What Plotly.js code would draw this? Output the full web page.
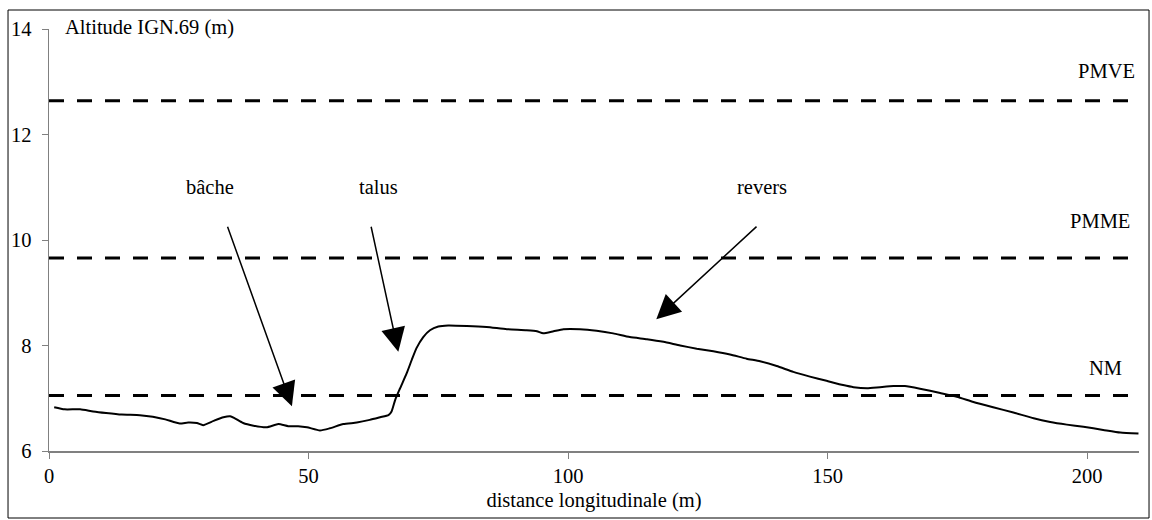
<!DOCTYPE html>
<html><head><meta charset="utf-8">
<script src="https://cdn.plot.ly/plotly-3.0.1.min.js"></script>
<style>html,body{margin:0;padding:0;background:#fff}#chart{width:1152px;height:520px}</style>
</head><body><div id="chart"></div>
<script>
// Profile data (distance in m, altitude IGN.69 in m)
const distance = [1, 3, 6, 8.5, 11, 14, 17.5, 20, 22.4, 25.2, 26.8, 28.5, 29.7, 31.7, 33.6, 34.9, 35.8, 37.4, 39.4, 41.9,
  44.2, 46.1, 48, 49.7, 52.2, 54.1, 56.7, 59.3, 61.8, 63.8, 65.4, 66, 66.7, 67.6, 68.9, 69.9, 70.8, 72.1, 73.4, 75,
  76.9, 80.5, 84.3, 88.2, 92, 94, 95.2, 97.2, 99.1, 102.3, 105.5, 108.7, 111.9, 115.2, 118.4, 121.6, 124.8, 128, 131.2, 134.4,
  137, 140.2, 143.4, 146.6, 149.8, 153, 155, 157.6, 160.1, 162.7, 164.9, 167.8, 171.7, 174.9, 178.1, 181.9, 185.8, 189.7, 192.9, 196.1,
  199.3, 203.1, 206.4, 209.9];
const altitude = [6.83, 6.79, 6.79, 6.75, 6.72, 6.69, 6.68, 6.65, 6.60, 6.52, 6.54, 6.53, 6.49, 6.57, 6.64, 6.66, 6.62, 6.53, 6.48, 6.45,
  6.51, 6.47, 6.47, 6.45, 6.39, 6.43, 6.51, 6.54, 6.59, 6.64, 6.68, 6.75, 6.97, 7.18, 7.47, 7.73, 7.95, 8.16, 8.29, 8.36,
  8.38, 8.37, 8.35, 8.31, 8.29, 8.27, 8.23, 8.27, 8.31, 8.31, 8.28, 8.23, 8.16, 8.12, 8.07, 8.00, 7.94, 7.89, 7.83, 7.75,
  7.70, 7.61, 7.50, 7.41, 7.33, 7.25, 7.21, 7.19, 7.21, 7.23, 7.23, 7.18, 7.10, 7.03, 6.93, 6.83, 6.73, 6.62, 6.55, 6.50,
  6.46, 6.40, 6.35, 6.33];

// Reference water levels
const levelNames = ['PMVE', 'PMME', 'NM'];
const levelValues = [12.64, 9.66, 7.05];
const levelSpan = [0, 210];

// Axis ticks
const xTicks = [0, 50, 100, 150, 200];
const yTicks = [6, 8, 10, 12, 14];

// Annotated features
const featureNames = ['bâche', 'talus', 'revers'];

const FONT = 'Liberation Serif';
const FS = 20.5;

const traces = [];
levelValues.forEach((v, i) => {
  traces.push({
    x: levelSpan, y: [v, v], mode: 'lines', name: levelNames[i], hoverinfo: 'skip',
    line: {color: '#000', width: 3, dash: '15px,13px'}
  });
});
traces.push({
  x: distance, y: altitude, mode: 'lines', name: 'profil', hoverinfo: 'skip',
  line: {color: '#000', width: 2, shape: 'spline', smoothing: 0.5}
});

const levelLabelPos = [
  {x: 203.8, yshift: 17},
  {x: 202.5, yshift: 24},
  {x: 203.5, yshift: 15}
];
const annotations = levelNames.map((n, i) => ({
  text: n, x: levelLabelPos[i].x, y: levelValues[i], xref: 'x', yref: 'y',
  xanchor: 'center', yanchor: 'bottom', yshift: levelLabelPos[i].yshift, showarrow: false,
  font: {family: FONT, size: FS, color: '#000'}
}));

// Feature labels and arrows (text positions, tails and tips)
const featureGeom = [
  {tx: 31.0, ty: 11.0, ax: 34.3, ay: 10.28, x: 46.8, y: 6.85},
  {tx: 63.4, ty: 11.0, ax: 62.0, ay: 10.28, x: 67.3, y: 7.88},
  {tx: 137.4, ty: 11.0, ax: 136.6, ay: 10.28, x: 117.0, y: 8.50}
];
featureNames.forEach((n, i) => {
  const g = featureGeom[i];
  annotations.push({
    text: n, x: g.tx, y: g.ty, xref: 'x', yref: 'y', showarrow: false,
    xanchor: 'center', yanchor: 'middle', font: {family: FONT, size: FS, color: '#000'}
  });
  annotations.push({
    text: '', x: g.x, y: g.y, xref: 'x', yref: 'y', ax: g.ax, ay: g.ay, axref: 'x', ayref: 'y',
    showarrow: true, arrowhead: 2, arrowsize: 3.2, arrowwidth: 1.5, arrowcolor: '#000', standoff: 0
  });
});

// Y axis title at top-left
annotations.push({
  text: 'Altitude IGN.69 (m)', xref: 'paper', yref: 'paper', x: 0.0128, y: 1.0024,
  xanchor: 'left', yanchor: 'middle', showarrow: false,
  font: {family: FONT, size: FS, color: '#000'}
});

const layout = {
  width: 1152, height: 520,
  margin: {l: 49, r: 13, t: 29, b: 69, pad: 0},
  paper_bgcolor: '#fff', plot_bgcolor: '#fff',
  showlegend: false,
  font: {family: FONT, size: FS, color: '#000'},
  xaxis: {
    range: [0, 210], tickvals: xTicks, ticktext: xTicks.map(String),
    showgrid: false, zeroline: false, showline: true, linecolor: '#808080', linewidth: 1.5,
    ticks: 'outside', ticklen: 6, tickcolor: '#808080', tickwidth: 1,
    ticklabelstandoff: 0,
    tickfont: {family: FONT, size: FS, color: '#000'},
    title: {text: 'distance longitudinale (m)', font: {family: FONT, size: FS, color: '#000'}, standoff: 6},
    fixedrange: true
  },
  yaxis: {
    range: [6, 14], tickvals: yTicks, ticktext: yTicks.map(String),
    showgrid: false, zeroline: false, showline: true, linecolor: '#808080', linewidth: 1.5,
    ticks: 'outside', ticklen: 6, tickcolor: '#808080', tickwidth: 1,
    ticklabelstandoff: 6,
    tickfont: {family: FONT, size: FS, color: '#000'},
    fixedrange: true
  },
  annotations: annotations,
  shapes: [{
    type: 'rect', xref: 'paper', yref: 'paper',
    x0: -0.0376, x1: 1.0092, y0: -0.1588, y1: 1.045,
    line: {color: '#000', width: 1}, fillcolor: 'rgba(0,0,0,0)', layer: 'above'
  }]
};

Plotly.newPlot('chart', traces, layout, {displayModeBar: false, staticPlot: true});
</script>
</body></html>
